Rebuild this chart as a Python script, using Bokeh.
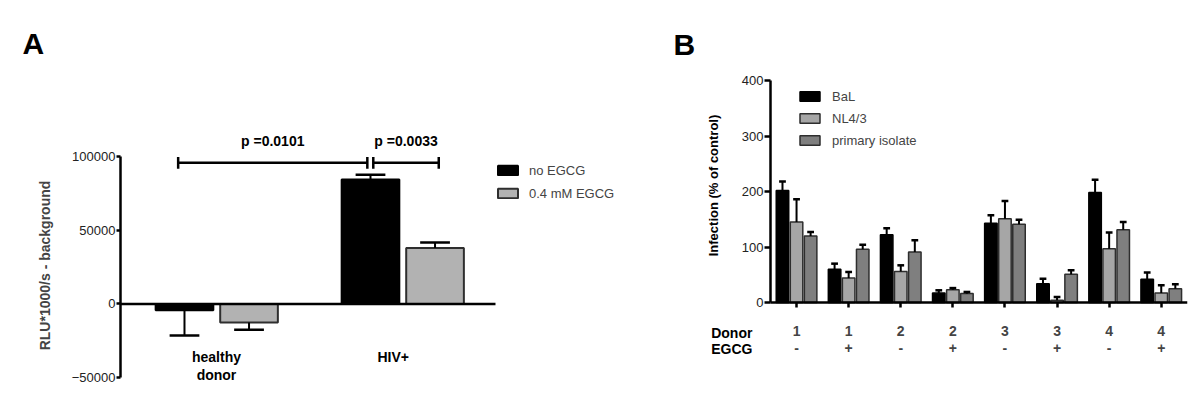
import math
from bokeh.plotting import figure
from bokeh.models import (Range1d, FixedTicker, Legend, LegendItem, Title,
                          BasicTickFormatter)
from bokeh.layouts import row
from bokeh.embed import file_html
from bokeh.resources import INLINE
from bokeh.core.properties import value

# ---------------- Panel A data ----------------
groups_a = ["healthy\ndonor", "HIV+"]
series_a = ["no EGCG", "0.4 mM EGCG"]
no_egcg = [-4200, 84300]
no_egcg_err = [17200, 3100]
egcg_04 = [-12600, 37800]
egcg_04_err = [4900, 3700]
a_ticks = [-50000, 0, 50000, 100000]
p_labels = ["p =0.0101", "p =0.0033"]

# ---------------- Panel B data ----------------
donors = ["1", "1", "2", "2", "3", "3", "4", "4"]
egcg_flags = ["-", "+", "-", "+", "-", "+", "-", "+"]
row_headers = ["Donor", "EGCG"]
series_b = ["BaL", "NL4/3", "primary isolate"]
bal = [202, 60, 122, 17, 143, 34, 198, 42]
bal_err = [16, 10, 12, 5, 14, 9, 23, 12]
nl43 = [145, 44, 56, 23, 151, 4, 97, 17]
nl43_err = [41, 11, 11, 3, 32, 6, 29, 14]
primary = [120, 96, 91, 16, 141, 51, 131, 25]
primary_err = [7, 8, 21, 3, 8, 7, 14, 8]
b_ticks = [0, 100, 200, 300, 400]

FONT = "Liberation Sans"
EDGE = "#2e2e2e"

# =============== Panel A ===============
pa = figure(width=640, height=411, output_backend="svg", toolbar_location=None,
            title=None,
            x_range=Range1d(-0.516, 2.2796), y_range=Range1d(-72135, 124165),
            x_axis_location=None, min_border_left=120, min_border_right=0,
            min_border_top=120, min_border_bottom=1, frame_align=False)
pa.outline_line_color = None
pa.grid.visible = False
# spacer slot next to the frame, then the panel letter above it
pa.add_layout(Title(text=" ", text_font_size="1px", standoff=58), "above")
pa.add_layout(Title(text="A", align="left", offset=-98, standoff=0,
                    text_color="black", text_font=FONT, text_font_style="bold",
                    text_font_size="30px"), "above")

ya = pa.yaxis[0]
ya.bounds = (a_ticks[0], a_ticks[-1])
ya.ticker = FixedTicker(ticks=a_ticks)
ya.formatter = BasicTickFormatter(use_scientific=False)
ya.minor_tick_line_color = None
ya.major_tick_in = 0
ya.major_tick_out = 4
ya.major_tick_line_width = 2.5
ya.axis_line_width = 2.5
ya.major_label_standoff = 1
ya.major_label_text_font = FONT
ya.major_label_text_font_size = "13px"
ya.major_label_text_color = "#222222"
ya.axis_label = "RLU*1000/s - background"
ya.axis_label_text_font = FONT
ya.axis_label_text_font_style = "bold"
ya.axis_label_text_font_size = "14px"
ya.axis_label_standoff = 16

off_a = [-0.172, 0.175]
bw_a = 0.31
gx = list(range(len(groups_a)))
colors_a = ["black", "#b2b2b2"]
lines_a = ["black", EDGE]
vals_a = [no_egcg, egcg_04]
errs_a = [no_egcg_err, egcg_04_err]
rend_a = []
centers_a = []
for s in range(2):
    xs = [g + off_a[s] for g in gx]
    centers_a.append(xs)
    r = pa.vbar(x=xs, top=vals_a[s], bottom=0, width=bw_a, fill_color=colors_a[s],
                line_color=lines_a[s], line_width=2)
    rend_a.append(r)
    ends = [v + (e if v >= 0 else -e) for v, e in zip(vals_a[s], errs_a[s])]
    pa.segment(x0=xs, x1=xs, y0=vals_a[s], y1=ends, line_color="black", line_width=2)
    cap = 0.08
    pa.segment(x0=[x - cap for x in xs], x1=[x + cap for x in xs], y0=ends, y1=ends,
               line_color="black", line_width=2.5)

# zero line across the groups
pa.segment(x0=[-0.516], x1=[1.5], y0=[0], y1=[0], line_color="black", line_width=2.5)

# significance brackets
by = 95500
bh = 4000
b_x0 = [centers_a[0][0] - 0.034, centers_a[0][1] + 0.015]
b_x1 = [centers_a[0][1] - 0.017, centers_a[1][1] + 0.02]
pa.segment(x0=b_x0, x1=b_x1, y0=[by] * 2, y1=[by] * 2, line_color="black", line_width=2.5)
pa.segment(x0=b_x0 + b_x1, x1=b_x0 + b_x1, y0=[by - bh] * 4, y1=[by + bh] * 4,
           line_color="black", line_width=2.5)
pa.text(x=[(a + b) / 2 for a, b in zip(b_x0, b_x1)], y=[110600] * 2, text=p_labels,
        text_font=value(FONT), text_font_style="bold", text_font_size="14px",
        text_align="center", text_baseline="middle", text_color="black")

# group labels
pa.text(x=[0, 0.95], y=[-30500, -30500], text=groups_a, text_font=value(FONT),
        text_font_style="bold", text_font_size="14px", text_align="center",
        text_baseline="top", text_color="black", text_line_height=1.15)

leg_a = Legend(items=[LegendItem(label=series_a[i], renderers=[rend_a[i]]) for i in range(2)],
               location=(375, 207), glyph_width=25, glyph_height=12, label_height=20,
               spacing=3, padding=0, margin=0, label_standoff=9,
               label_text_font=FONT, label_text_font_size="13px",
               border_line_color=None, background_fill_alpha=0)
pa.add_layout(leg_a)

# =============== Panel B ===============
# the frame covers the whole panel; axes are pinned at x=-0.5 and y=0
PXU = 52.1      # px per category step
PYU = 0.555     # px per % unit
FRAME_H = 357
bx0 = -0.5 - (770 - 672) / PXU
bx1 = -0.5 + (1187 - 770) / PXU
by1 = (302 - 0) / PYU
by0 = -(FRAME_H - 302) / PYU
pb = figure(width=552, frame_height=FRAME_H, output_backend="svg", toolbar_location=None,
            title=None,
            x_range=Range1d(bx0, bx1), y_range=Range1d(by0, by1),
            min_border_left=32, min_border_right=5, min_border_top=0,
            min_border_bottom=0, frame_align=False)
pb.outline_line_color = None
pb.grid.visible = False

yb = pb.yaxis[0]
yb.fixed_location = -0.5
yb.bounds = (b_ticks[0], b_ticks[-1])
yb.ticker = FixedTicker(ticks=b_ticks)
yb.minor_tick_line_color = None
yb.major_tick_in = 0
yb.major_tick_out = 6
yb.major_tick_line_width = 2.5
yb.axis_line_width = 2.5
yb.major_label_standoff = 1
yb.major_label_text_font = FONT
yb.major_label_text_font_size = "13px"
yb.major_label_text_color = "#222222"

xb = pb.xaxis[0]
idx = list(range(len(donors)))
xb.fixed_location = 0
xb.bounds = (-0.5, len(donors) - 0.5)
xb.ticker = FixedTicker(ticks=idx)
xb.major_label_overrides = {i: f"{d}\n{e}" for i, d, e in zip(idx, donors, egcg_flags)}
xb.minor_tick_line_color = None
xb.major_tick_in = 0
xb.major_tick_out = 5
xb.major_tick_line_width = 2.5
xb.axis_line_width = 2.5
xb.major_label_standoff = 15
xb.major_label_text_font = FONT
xb.major_label_text_font_style = "bold"
xb.major_label_text_font_size = "14px"
xb.major_label_text_line_height = 1.1

off_b = [-0.27, 0.0, 0.27]
bw_b = 0.24
colors_b = ["black", "#a6a6a6", "#7f7f7f"]
lines_b = ["black", EDGE, EDGE]
vals_b = [bal, nl43, primary]
errs_b = [bal_err, nl43_err, primary_err]
rend_b = []
for s in range(3):
    xs = [i + off_b[s] for i in idx]
    r = pb.vbar(x=xs, top=vals_b[s], bottom=0, width=bw_b, fill_color=colors_b[s],
                line_color=lines_b[s], line_width=1.5)
    rend_b.append(r)
    ends = [v + e for v, e in zip(vals_b[s], errs_b[s])]
    pb.segment(x0=xs, x1=xs, y0=vals_b[s], y1=ends, line_color="black", line_width=2)
    cap = 0.065
    pb.segment(x0=[x - cap for x in xs], x1=[x + cap for x in xs], y0=ends, y1=ends,
               line_color="black", line_width=2.5)

# y-axis title, panel letter, and row headers of the x labels
pb.text(x=[-0.5 - 57 / PXU], y=[(302 - 185) / PYU], text=["Infection (% of control)"],
        angle=math.pi / 2, text_font=value(FONT), text_font_style="bold",
        text_font_size="13px", text_align="center", text_baseline="middle",
        text_color="black")
pb.text(x=[-0.5 - 97 / PXU], y=[(302 - 44) / PYU], text=["B"],
        text_font=value(FONT), text_font_style="bold", text_font_size="30px",
        text_align="left", text_baseline="middle", text_color="black")
pb.text(x=[-0.5 - 59.3 / PXU] * 2, y=[-(332 - 302) / PYU, -(348 - 302) / PYU],
        text=row_headers, text_font=value(FONT), text_font_style="bold",
        text_font_size="14px", text_align="left", text_baseline="middle",
        text_color="black")

leg_b = Legend(items=[LegendItem(label=series_b[i], renderers=[rend_b[i]]) for i in range(3)],
               location=(125, FRAME_H - 150), glyph_width=25, glyph_height=12, label_height=20,
               spacing=2, padding=0, margin=0, label_standoff=10,
               label_text_font=FONT, label_text_font_size="13px",
               border_line_color=None, background_fill_alpha=0)
pb.add_layout(leg_b)

layout = row(pa, pb)
open("out.html", "w").write(file_html(layout, INLINE))
